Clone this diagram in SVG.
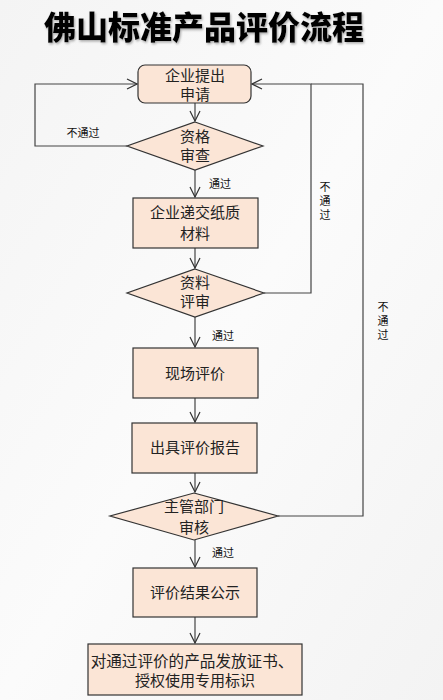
<svg xmlns="http://www.w3.org/2000/svg" width="443" height="700" viewBox="0 0 443 700">
<defs>
<linearGradient id="bg" x1="0" y1="0" x2="1" y2="1">
<stop offset="0" stop-color="#f4f4f4"/>
<stop offset="0.5" stop-color="#fbfbfb"/>
<stop offset="1" stop-color="#f3f3f3"/>
</linearGradient>
<marker id="arr" viewBox="0 0 12 12" refX="11" refY="6" markerWidth="12" markerHeight="12" markerUnits="userSpaceOnUse" orient="auto">
<polyline points="1,1 11,6 1,11" fill="none" stroke="#333" stroke-width="1.2"/>
</marker>
<filter id="sh" x="-5%" y="-5%" width="110%" height="120%">
<feDropShadow dx="1" dy="1.5" stdDeviation="0.8" flood-color="#888" flood-opacity="0.7"/>
</filter>
</defs>
<style>
.node{fill:#fbe5d6;stroke:#333;stroke-width:1.2}
.t{font-family:"Noto Sans CJK SC","Liberation Sans",sans-serif;font-size:15px;fill:#222;text-anchor:middle}
.s{font-family:"Noto Sans CJK SC","Liberation Sans",sans-serif;font-size:11px;fill:#111;text-anchor:middle}
.v{font-family:"Noto Sans CJK SC","Liberation Sans",sans-serif;font-size:11px;fill:#111;writing-mode:vertical-rl;letter-spacing:3px}
.c{fill:none;stroke:#444;stroke-width:1.2}
.title{font-family:"Noto Sans CJK SC","Liberation Sans",sans-serif;font-size:32px;font-weight:900;fill:#000;text-anchor:middle}
</style>
<rect x="0" y="0" width="443" height="700" fill="url(#bg)"/>
<text class="title" x="204" y="39" filter="url(#sh)">佛山标准产品评价流程</text>

<g id="connectors">
<line class="c" x1="195" y1="103" x2="195" y2="121" marker-end="url(#arr)"/>
<line class="c" x1="195" y1="170" x2="195" y2="197" marker-end="url(#arr)"/>
<line class="c" x1="195" y1="248" x2="195" y2="268" marker-end="url(#arr)"/>
<line class="c" x1="195" y1="317" x2="195" y2="347" marker-end="url(#arr)"/>
<line class="c" x1="195" y1="398" x2="195" y2="422" marker-end="url(#arr)"/>
<line class="c" x1="195" y1="473" x2="195" y2="492" marker-end="url(#arr)"/>
<line class="c" x1="195" y1="540" x2="195" y2="567" marker-end="url(#arr)"/>
<line class="c" x1="195" y1="617" x2="195" y2="643" marker-end="url(#arr)"/>
<polyline class="c" points="127,146 35,146 35,84 137,84" marker-end="url(#arr)"/>
<polyline class="c" points="264,293 311,293 311,84 252,84" marker-end="url(#arr)"/>
<polyline class="c" points="278,516 363,516 363,84 311,84"/>
<text class="s" x="83" y="137">不通过</text>
<text class="s" x="220" y="188">通过</text>
<text class="s" x="223" y="340">通过</text>
<text class="s" x="223" y="557">通过</text>
<text class="v" x="325" y="181">不通过</text>
<text class="v" x="383" y="301">不通过</text>
</g>

<g id="n1">
<rect class="node" x="138" y="65" width="113" height="38" rx="7"/>
<text class="t" x="195" y="80.5">企业提出</text>
<text class="t" x="195" y="99.5">申请</text>
</g>
<g id="d1">
<polygon class="node" points="195,122 263,146 195,170 127,146"/>
<text class="t" x="195" y="142">资格</text>
<text class="t" x="195" y="161">审查</text>
</g>
<g id="n2">
<rect class="node" x="133" y="198" width="125" height="50"/>
<text class="t" x="195" y="218">企业递交纸质</text>
<text class="t" x="195" y="239">材料</text>
</g>
<g id="d2">
<polygon class="node" points="195,269 264,293 195,317 127,293"/>
<text class="t" x="195" y="288">资料</text>
<text class="t" x="195" y="307">评审</text>
</g>
<g id="n3">
<rect class="node" x="133" y="348" width="125" height="50"/>
<text class="t" x="195" y="379">现场评价</text>
</g>
<g id="n4">
<rect class="node" x="132" y="423" width="125" height="50"/>
<text class="t" x="195" y="453">出具评价报告</text>
</g>
<g id="d3">
<polygon class="node" points="194,493 278,516 194,540 110,516"/>
<text class="t" x="194" y="512">主管部门</text>
<text class="t" x="194" y="533">审核</text>
</g>
<g id="n5">
<rect class="node" x="133" y="568" width="124" height="49"/>
<text class="t" x="195" y="598">评价结果公示</text>
</g>
<g id="n6">
<rect class="node" x="88" y="644" width="214" height="51"/>
<text class="t" x="192" y="667" style="font-size:15.6px">对通过评价的产品发放证书、</text>
<text class="t" x="195" y="686">授权使用专用标识</text>
</g>
</svg>
